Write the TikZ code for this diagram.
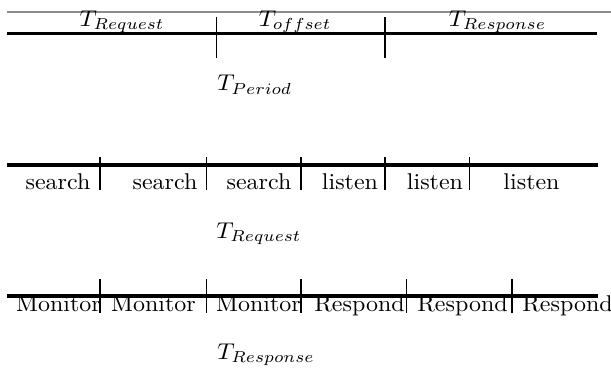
\documentclass[tikz,border=0pt]{standalone}
\usepackage{graphicx}
\newcommand{\vsq}[1]{\scalebox{1.02}[0.97]{#1}}
\tikzset{
  thickrule/.style={line width=1.4pt, black},
  tickline/.style={line width=0.45pt, black},
  greyrule/.style={line width=0.6pt, black!45},
  lbl/.style={inner sep=0pt, anchor=base},
  lblw/.style={inner sep=0pt, anchor=base west},
}
\begin{document}
\begin{tikzpicture}[x=0.4255pt, y=-0.4255pt]
\useasboundingbox (0,0) rectangle (611,367);
% row 1
\coordinate (g1) at (7,12); \coordinate (g2) at (611,12);
\draw[greyrule] (g1) -- (g2);
\coordinate (a1) at (7,33.5); \coordinate (a2) at (597,33.5);
\draw[thickrule] (a1) -- (a2);
\foreach \x [count=\i] in {216.5,385}{
  \coordinate (at\i t) at (\x,17); \coordinate (at\i b) at (\x,58);
  \draw[tickline] (at\i t) -- (at\i b);
}
\node[lbl] (treq) at (122,26) {\vsq{$T_{Request}$}};
\node[lbl] (toff) at (295,26) {\vsq{$T_{offset}$}};
\node[lbl] (tres) at (497.5,26) {\vsq{$T_{Response}$}};
\node[lblw] (tper) at (217,90.7) {\vsq{$T_{Period}$}};
% row 2
\coordinate (b1) at (7,165); \coordinate (b2) at (598,165);
\draw[thickrule] (b1) -- (b2);
\foreach \x [count=\i] in {100,206.5,301,385,469.5}{
  \coordinate (bt\i t) at (\x,157); \coordinate (bt\i b) at (\x,190);
  \draw[tickline] (bt\i t) -- (bt\i b);
}
\node[lbl] (s1) at (58,189) {\vsq{search}};
\node[lbl] (s2) at (165,189) {\vsq{search}};
\node[lbl] (s3) at (259,189) {\vsq{search}};
\node[lbl] (l1) at (350,189) {\vsq{listen}};
\node[lbl] (l2) at (435,189) {\vsq{listen}};
\node[lbl] (l3) at (531.5,189) {\vsq{listen}};
\node[lblw] (treq2) at (216,238) {\vsq{$T_{Request}$}};
% row 3
\coordinate (c1) at (7,296); \coordinate (c2) at (598,296);
\draw[thickrule] (c1) -- (c2);
\foreach \x [count=\i] in {100,206.5,301,406.5,512}{
  \coordinate (ct\i t) at (\x,279); \coordinate (ct\i b) at (\x,313);
  \draw[tickline] (ct\i t) -- (ct\i b);
}
\node[lbl] (m1) at (58.4,311.7) {\vsq{Monitor}};
\node[lbl] (m2) at (153.5,311.7) {\vsq{Monitor}};
\node[lbl] (m3) at (258.4,311.7) {\vsq{Monitor}};
\node[lbl] (r1) at (359.5,311.7) {\vsq{Respond}};
\node[lbl] (r2) at (462.5,311.7) {\vsq{Respond}};
\node[lbl] (r3) at (567.5,311.7) {\vsq{Respond}};
\node[lblw] (tres2) at (217,359) {\vsq{$T_{Response}$}};
\end{tikzpicture}
\end{document}
